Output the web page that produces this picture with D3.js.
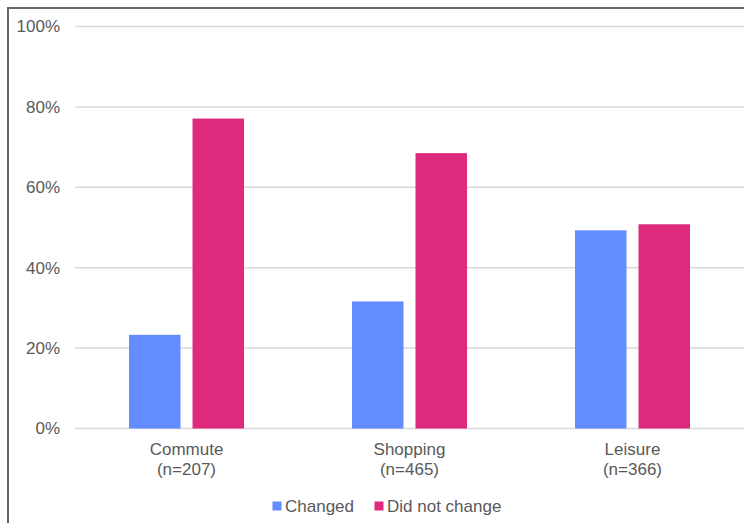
<!DOCTYPE html>
<html>
<head>
<meta charset="utf-8">
<script src="https://cdn.jsdelivr.net/npm/d3@7"></script>
<style>
html,body{margin:0;padding:0;background:#fff;}
svg{display:block;font-family:"Liberation Sans",Arial,sans-serif;}
</style>
</head>
<body>
<svg id="chart" width="744" height="523"></svg>
<script>
const categories = ["Commute", "Shopping", "Leisure"];
const sampleSizes = ["(n=207)", "(n=465)", "(n=366)"];
const seriesNames = ["Changed", "Did not change"];
const changed = [23.3, 31.6, 49.3];
const didNotChange = [77.1, 68.5, 50.8];
const tickValues = [0, 20, 40, 60, 80, 100];
const colors = ["#628cff", "#dd2a7c"];

const svg = d3.select("#chart");
const W = 744, H = 523;
const plot = {left: 75, right: 744, top: 26.5, bottom: 428.5};

// frame
svg.append("rect").attr("x", 8).attr("y", 8).attr("width", W).attr("height", H)
  .attr("fill", "none").attr("stroke", "#666").attr("stroke-width", 2);

const y = d3.scaleLinear().domain([0, 100]).range([plot.bottom, plot.top]);
const x0 = d3.scaleBand().domain(categories).range([plot.left, plot.right]).padding(0);
const groupW = 115;
const x1 = d3.scaleBand().domain(seriesNames)
  .range([x0.bandwidth()/2 - groupW/2, x0.bandwidth()/2 + groupW/2]).paddingInner(0.189);

// gridlines
svg.append("g").selectAll("line").data(tickValues).join("line")
  .attr("x1", plot.left).attr("x2", plot.right)
  .attr("y1", d => y(d)).attr("y2", d => y(d))
  .attr("stroke", "#d9d9d9").attr("stroke-width", 1.5);

// y axis labels
const yAxis = d3.axisLeft(y).tickValues(tickValues).tickFormat(d => d + "%").tickSize(0).tickPadding(0);
const ga = svg.append("g").attr("transform", `translate(60,0)`).call(yAxis);
ga.select(".domain").remove();
ga.selectAll("text").attr("font-size", 17).attr("fill", "#595959")
  .attr("font-family", "'Liberation Sans',Arial,sans-serif");

// bars
const data = categories.map((c, i) => ({cat: c, vals: [changed[i], didNotChange[i]]}));
const groups = svg.append("g").selectAll("g").data(data).join("g")
  .attr("transform", d => `translate(${x0(d.cat)},0)`);
groups.selectAll("rect").data(d => d.vals.map((v, j) => ({s: seriesNames[j], v, j})))
  .join("rect")
  .attr("x", d => x1(d.s)).attr("width", x1.bandwidth())
  .attr("y", d => y(d.v)).attr("height", d => y(0) - y(d.v))
  .attr("fill", d => colors[d.j]);

// category labels
const lab = svg.append("g").selectAll("text").data(categories).join("text")
  .attr("x", d => x0(d) + x0.bandwidth()/2)
  .attr("text-anchor", "middle").attr("font-size", 17).attr("fill", "#595959");
lab.append("tspan").attr("x", d => x0(d) + x0.bandwidth()/2).attr("y", 455).text(d => d);
lab.append("tspan").attr("x", d => x0(d) + x0.bandwidth()/2).attr("y", 475).text((d, i) => sampleSizes[i]);

// legend
const legendX = [272.5, 374.5];
const lg = svg.append("g").selectAll("g").data(seriesNames).join("g")
  .attr("transform", (d, i) => `translate(${legendX[i]},501.5)`);
lg.append("rect").attr("width", 9).attr("height", 9).attr("fill", (d, i) => colors[i]);
lg.append("text").attr("x", 12.5).attr("y", 10.5).attr("font-size", 17).attr("fill", "#595959").text(d => d);
</script>
</body>
</html>
